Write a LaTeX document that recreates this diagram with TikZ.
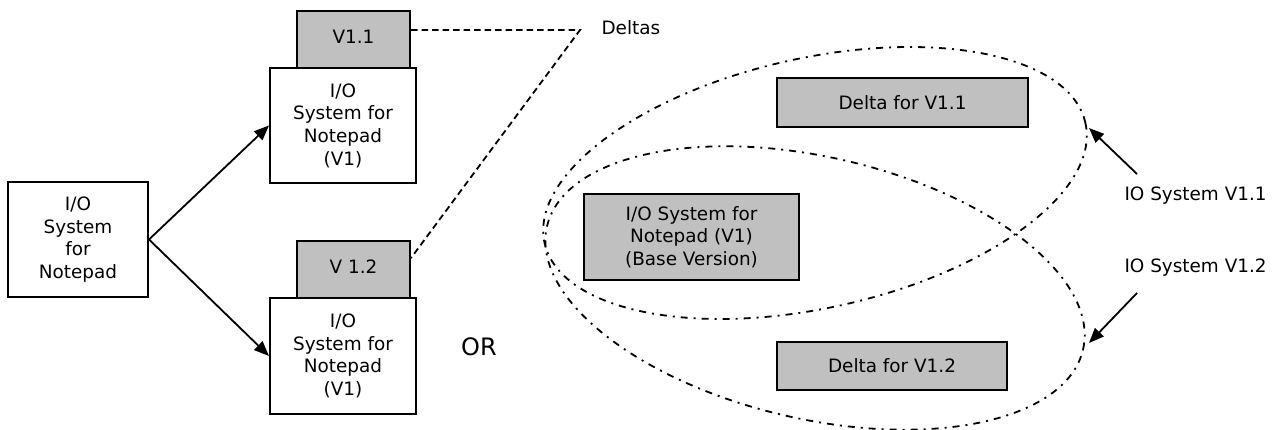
\documentclass[tikz,border=0pt]{standalone}
\usepackage{fontspec}
\setmainfont{DejaVu Sans}
\usetikzlibrary{arrows.meta}
\begin{document}
\begin{tikzpicture}[x=1pt,y=1pt,
  every node/.style={font=\fontsize{18.4}{22.6}\selectfont, text=black},
  wbox/.style={draw=black, line width=2pt, fill=white, align=center, inner sep=0pt},
  gbox/.style={draw=black, line width=2pt, fill={rgb,255:red,192;green,192;blue,192}, align=center, inner sep=0pt},
  link/.style={line width=1.8pt, -{Triangle[length=15pt,width=12pt]}},
  deltaline/.style={line width=1.8pt, dash pattern=on 6.5pt off 4pt},
  setline/.style={line width=1.8pt, dash pattern=on 7pt off 6pt on 2pt off 6pt}
]
\useasboundingbox (0,0) rectangle (1283,-430);

% source system
\node[wbox, minimum width=140pt, minimum height=115pt] (src) at (78,-239.5)
  {I/O\\System\\for\\Notepad};

% upper version: base plus delta V1.1
\node[wbox, minimum width=146pt, minimum height=115pt] (up) at (343,-125.5)
  {I/O\\System for\\Notepad\\(V1)};
\node[gbox, minimum width=113pt, minimum height=57pt] (v11) at (353.5,-39.5)
  {\raisebox{6pt}{V1.1}};

% lower version: base plus delta V1.2
\node[wbox, minimum width=146pt, minimum height=116pt] (low) at (343,-356)
  {I/O\\System for\\Notepad\\(V1)};
\node[gbox, minimum width=113pt, minimum height=57pt] (v12) at (353.5,-269.5)
  {\raisebox{5pt}{V 1.2}};

\draw[link] (src.east) -- (up.west);
\draw[link] (src.east) -- (low.west);

% deltas callout
\node[anchor=west] (deltas) at (598,-28) {Deltas};
\coordinate (apex) at (580,-30);
\draw[deltaline] ([yshift=9.5pt]v11.east) -- (apex) -- ([yshift=11.5pt]v12.east);

\node[font=\fontsize{24}{28}\selectfont] (or) at (479,-347) {OR};

% right-hand alternative: shared base and two deltas
\node[gbox, minimum width=215pt, minimum height=86pt] (base) at (691.5,-237)
  {I/O System for\\Notepad (V1)\\(Base Version)};
\node[gbox, minimum width=251pt, minimum height=49pt] (d11) at (902.5,-102.5)
  {Delta for V1.1};
\node[gbox, minimum width=230pt, minimum height=48pt] (d12) at (892,-366)
  {Delta for V1.2};

% the two version sets
\draw[setline, rotate around={12.5:(815,-183)}] (815,-183) ellipse [x radius=277pt, y radius=125pt];
\draw[setline, rotate around={-12.9:(815,-288)}] (815,-288) ellipse [x radius=275pt, y radius=131pt];

\node[anchor=west] (lab1) at (1121,-196) {IO System V1.1};
\node[anchor=west] (lab2) at (1121,-268) {IO System V1.2};
\coordinate (s1) at (1137,-174);
\coordinate (t1) at (1089,-128);
\coordinate (s2) at (1137,-293);
\coordinate (t2) at (1089,-343);
\draw[link] (s1) -- (t1);
\draw[link] (s2) -- (t2);
\end{tikzpicture}
\end{document}
